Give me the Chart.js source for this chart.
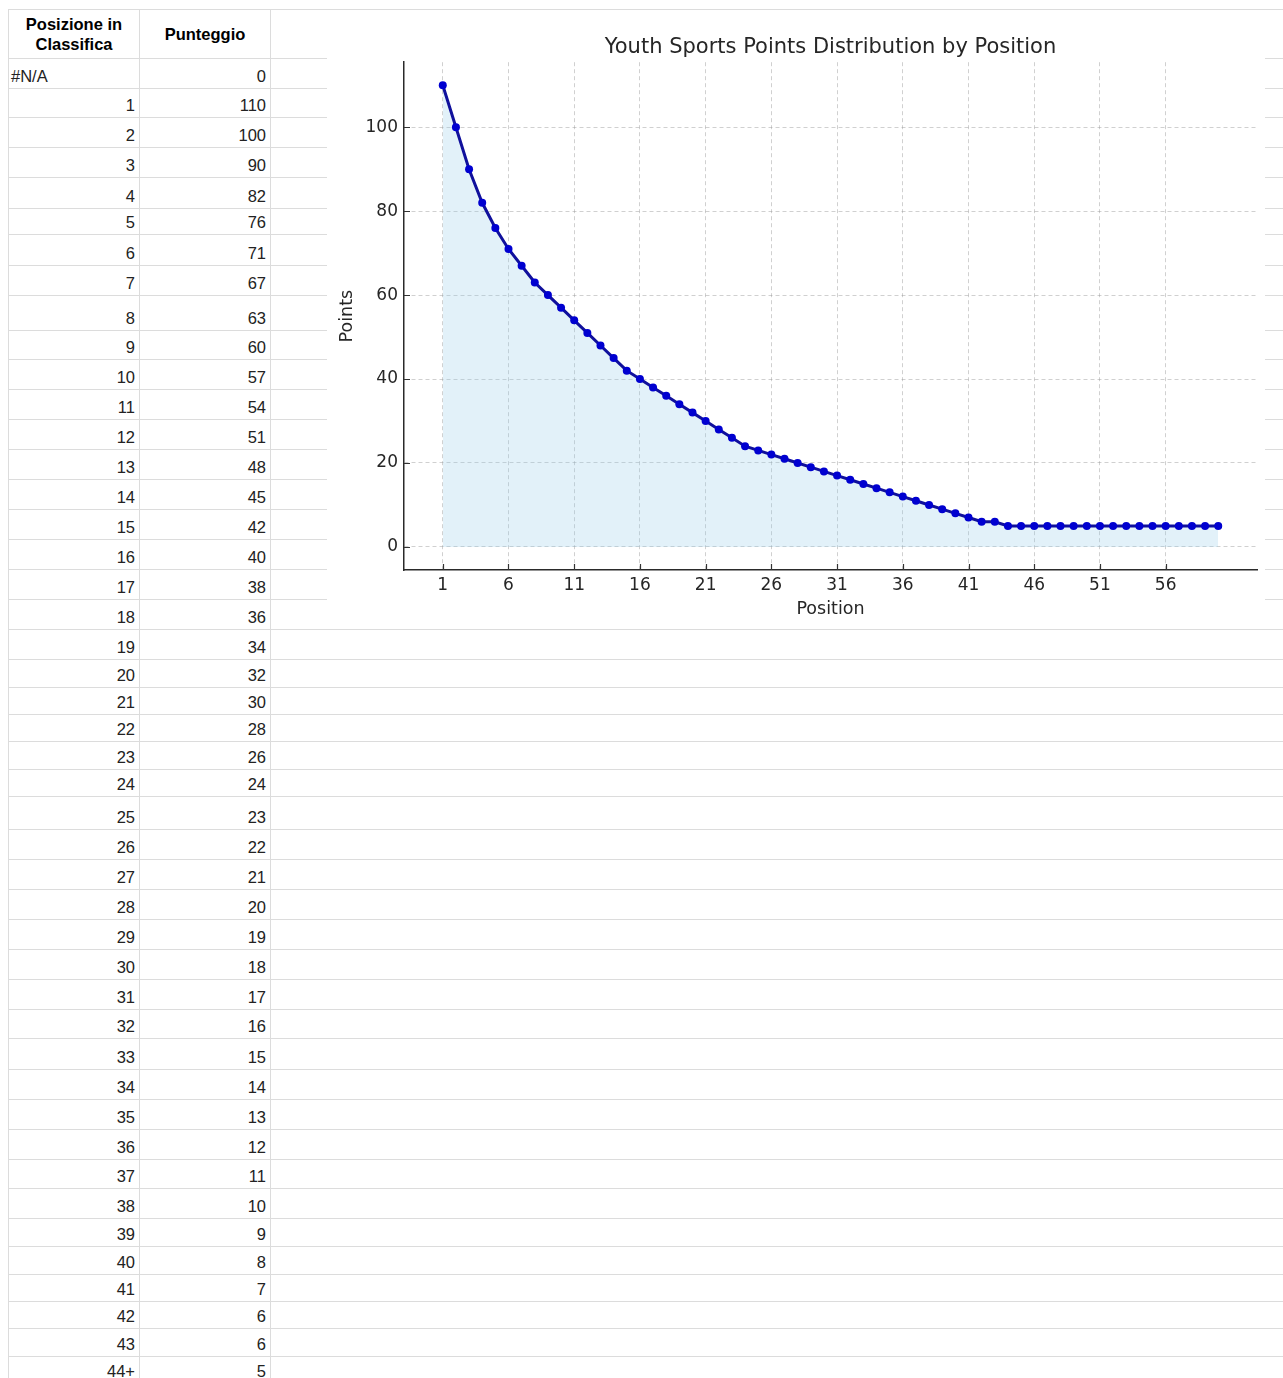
<!DOCTYPE html>
<html>
<head>
<meta charset="utf-8">
<title>Youth Sports Points Distribution by Position</title>
<script src="https://cdn.jsdelivr.net/npm/chart.js"></script>
<style>
    body {
        margin: 0;
        width: 1283px;
        height: 1378px;
        overflow: hidden;
        position: relative;
        background: #fff;
        font-family: "Liberation Sans", Arial, sans-serif;
    }
    #sheet {
        position: absolute;
        left: 8px;
        top: 9px;
        right: 0;
        border-top: 1px solid #dcdcdc;
        border-left: 1px solid #dcdcdc;
    }
    .row {
        display: flex;
        box-sizing: border-box;
        border-bottom: 1px solid #dcdcdc;
    }
    .cell {
        box-sizing: border-box;
        width: 131px;
        border-right: 1px solid #dcdcdc;
        display: flex;
        align-items: flex-end;
        justify-content: flex-end;
        padding: 0 4px 3px 2px;
        font-size: 16.5px;
        line-height: 17px;
        color: #222;
    }
    .cell.left { justify-content: flex-start; }
    .head .cell {
        align-items: center;
        justify-content: center;
        text-align: center;
        padding: 0;
        font-weight: bold;
        line-height: 20px;
        color: #000;
    }
    #chartBox {
        position: absolute;
        left: 327px;
        top: 10px;
        width: 938px;
        height: 618px;
        background: #fff;
    }
</style>
</head>
<body>
<div id="sheet"></div>
<div id="chartBox"><canvas id="points-chart"></canvas></div>

<script>
// Dati del foglio (colonne A e B)
const tableHeaders = ['Posizione in<br>Classifica', 'Punteggio'];
const tableLabels = ['#N/A', '1', '2', '3', '4', '5', '6', '7', '8', '9', '10', '11', '12', '13', '14',
    '15', '16', '17', '18', '19', '20', '21', '22', '23', '24', '25', '26', '27', '28', '29', '30',
    '31', '32', '33', '34', '35', '36', '37', '38', '39', '40', '41', '42', '43', '44+'];
const tableValues = [0, 110, 100, 90, 82, 76, 71, 67, 63, 60, 57, 54, 51, 48, 45,
    42, 40, 38, 36, 34, 32, 30, 28, 26, 24, 23, 22, 21, 20, 19, 18,
    17, 16, 15, 14, 13, 12, 11, 10, 9, 8, 7, 6, 6, 5];

// Dati del grafico
const positions = [1, 2, 3, 4, 5, 6, 7, 8, 9, 10, 11, 12, 13, 14, 15, 16, 17, 18, 19, 20,
    21, 22, 23, 24, 25, 26, 27, 28, 29, 30, 31, 32, 33, 34, 35, 36, 37, 38, 39, 40,
    41, 42, 43, 44, 45, 46, 47, 48, 49, 50, 51, 52, 53, 54, 55, 56, 57, 58, 59, 60];
const points = [110, 100, 90, 82, 76, 71, 67, 63, 60, 57, 54, 51, 48, 45, 42, 40, 38, 36, 34, 32,
    30, 28, 26, 24, 23, 22, 21, 20, 19, 18, 17, 16, 15, 14, 13, 12, 11, 10, 9, 8,
    7, 6, 6, 5, 5, 5, 5, 5, 5, 5, 5, 5, 5, 5, 5, 5, 5, 5, 5, 5];
const xTicks = [1, 6, 11, 16, 21, 26, 31, 36, 41, 46, 51, 56];
const yTicks = [0, 20, 40, 60, 80, 100];

// Altezze delle righe del foglio (layout, in px)
const headerHeight = 49;
const rowHeights = [30, 29, 30, 30, 31, 26, 31, 30, 35, 29,
    30, 30, 30, 30, 30, 30, 30, 30, 30, 30,
    28, 27, 27, 28, 27, 33,
    30, 30, 30, 30, 30, 30,
    29, 31, 30, 30, 30, 29, 30, 28, 28, 27, 27, 28, 27];

/**
 * Costruisce la griglia del foglio di calcolo.
 */
function buildSheet() {
    const sheet = document.getElementById('sheet');

    const head = document.createElement('div');
    head.className = 'row head';
    head.style.height = headerHeight + 'px';
    head.innerHTML = tableHeaders.map(h => `<div class="cell">${h}</div>`).join('');
    sheet.appendChild(head);

    tableLabels.forEach((label, i) => {
        const row = document.createElement('div');
        row.className = 'row';
        row.style.height = rowHeights[i] + 'px';
        const alignA = isNaN(Number(label.replace('+', ''))) ? ' left' : '';
        row.innerHTML = `<div class="cell${alignA}">${label}</div><div class="cell">${tableValues[i]}</div>`;
        sheet.appendChild(row);
    });
}

buildSheet();

// Tacche rivolte verso l'interno, come nel grafico originale
const inwardTicks = {
    id: 'inwardTicks',
    afterDatasetsDraw(chart) {
        const { ctx, chartArea, scales } = chart;
        ctx.save();
        ctx.strokeStyle = '#333';
        ctx.lineWidth = 1.2;
        ctx.beginPath();
        scales.x.ticks.forEach(t => {
            const px = Math.round(scales.x.getPixelForValue(t.value)) + 0.5;
            ctx.moveTo(px, chartArea.bottom);
            ctx.lineTo(px, chartArea.bottom - 6);
        });
        scales.y.ticks.forEach(t => {
            const py = Math.round(scales.y.getPixelForValue(t.value)) + 0.5;
            ctx.moveTo(chartArea.left, py);
            ctx.lineTo(chartArea.left + 6, py);
        });
        ctx.stroke();
        ctx.restore();
    }
};

Chart.defaults.font.family = '"DejaVu Sans", Verdana, sans-serif';
Chart.defaults.color = '#262626';

const gridOpts = {
    color: 'rgba(150, 150, 150, 0.45)',
    lineWidth: 1,
    drawTicks: false
};
const borderOpts = {
    display: true,
    color: '#2a2a2a',
    width: 1.5,
    dash: [4, 3]
};

const ctx = document.getElementById('points-chart').getContext('2d');
new Chart(ctx, {
    type: 'line',
    data: {
        datasets: [{
            label: 'Points',
            data: positions.map((x, i) => ({ x: x, y: points[i] })),
            borderColor: '#10109c',
            borderWidth: 3,
            backgroundColor: 'rgba(150, 205, 232, 0.28)',
            fill: 'origin',
            tension: 0,
            pointRadius: 4,
            pointBackgroundColor: '#0000d0',
            pointBorderColor: '#0000d0',
            pointBorderWidth: 0
        }]
    },
    options: {
        responsive: true,
        maintainAspectRatio: false,
        animation: false,
        layout: { padding: { left: 0, right: 8, top: 0, bottom: 0 } },
        plugins: {
            legend: { display: false },
            tooltip: { enabled: false },
            title: {
                display: true,
                text: 'Youth Sports Points Distribution by Position',
                fullSize: false,
                font: { size: 21, weight: 'normal' },
                padding: { top: 25, bottom: 2 }
            }
        },
        scales: {
            x: {
                type: 'linear',
                min: -1.95,
                max: 62.95,
                afterBuildTicks: scale => { scale.ticks = xTicks.map(v => ({ value: v })); },
                afterFit: scale => { scale.height = 58; },
                ticks: { autoSkip: false, maxRotation: 0, padding: 5, font: { size: 17 }, callback: v => String(v) },
                grid: gridOpts,
                border: borderOpts,
                title: { display: true, text: 'Position', font: { size: 17.5 }, padding: { top: 0, bottom: 8 } }
            },
            y: {
                type: 'linear',
                min: -5.5,
                max: 115.5,
                afterBuildTicks: scale => { scale.ticks = yTicks.map(v => ({ value: v })); },
                afterFit: scale => { scale.width = 77; },
                ticks: { autoSkip: false, padding: 6, font: { size: 17 }, callback: v => String(v) },
                grid: gridOpts,
                border: borderOpts,
                title: { display: true, text: 'Points', font: { size: 17.5 }, padding: { top: 10, bottom: 0 } }
            }
        }
    },
    plugins: [inwardTicks]
});
</script>
</body>
</html>
